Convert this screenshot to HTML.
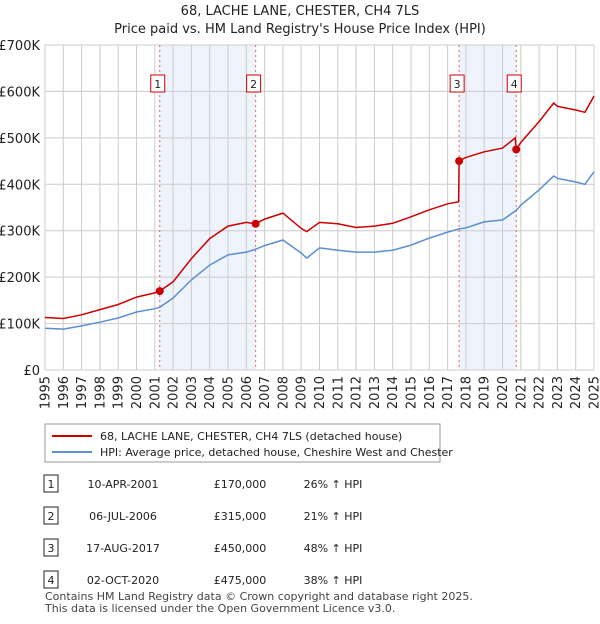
<!DOCTYPE html>
<html><head><meta charset="utf-8"><style>
body{margin:0;background:#fff;font-family:"DejaVu Sans",sans-serif;}
svg text{font-family:"DejaVu Sans","Liberation Sans",sans-serif;}
</style></head><body>
<svg id="c" width="600" height="620" xmlns="http://www.w3.org/2000/svg">
<text x="300" y="15" text-anchor="middle" font-size="13" fill="#222">68, LACHE LANE, CHESTER, CH4 7LS</text>
<text x="300" y="33" text-anchor="middle" font-size="13" fill="#222">Price paid vs. HM Land Registry's House Price Index (HPI)</text>
<g id="plot"></g>
<rect x="45" y="424" width="395" height="38" fill="#fff" stroke="#999"/>
<line x1="52" y1="436" x2="92" y2="436" stroke="#cc0000" stroke-width="2"/>
<text x="100" y="440" font-size="11" fill="#222">68, LACHE LANE, CHESTER, CH4 7LS (detached house)</text>
<line x1="52" y1="452" x2="92" y2="452" stroke="#5b8fd0" stroke-width="2"/>
<text x="100" y="456" font-size="11" fill="#222">HPI: Average price, detached house, Cheshire West and Chester</text>
<g id="tbl"></g>
<text x="45" y="600" font-size="11" fill="#444">Contains HM Land Registry data © Crown copyright and database right 2025.</text>
<text x="45" y="612" font-size="11" fill="#444">This data is licensed under the Open Government Licence v3.0.</text>
</svg>
<script>
const hpiDates=[1995,1996,1997,1998,1999,2000,2001,2001.27,2002,2003,2004,2005,2006,2006.5,2007,2008,2009,2009.3,2010,2011,2012,2013,2014,2015,2016,2017,2017.63,2018,2019,2020,2020.75,2021,2022,2022.8,2023,2024,2024.5,2025];
const hpiValues=[90,88,95,103,112,125,132,135,155,194,226,248,254,260,268,280,252,241,263,258,254,254,258,269,284,297,304,306,319,323,344,355,388,418,413,405,400,427];
const priceDates=[1995,1996,1997,1998,1999,2000,2001,2001.27,2002,2003,2004,2005,2006,2006.5,2007,2008,2009,2009.3,2010,2011,2012,2013,2014,2015,2016,2017,2017.6,2017.63,2018,2019,2020,2020.7,2020.75,2021,2022,2022.8,2023,2024,2024.5,2025];
const priceValues=[113,111,119,130,141,157,166,170,190,240,283,310,318,315,325,338,305,298,318,315,307,310,316,330,345,358,362,450,458,470,478,500,475,490,535,575,568,560,555,590];
const saleLabels=["1","2","3","4"];
const saleDates=[2001.27,2006.51,2017.63,2020.75];
const saleDateText=["10-APR-2001","06-JUL-2006","17-AUG-2017","02-OCT-2020"];
const salePrices=[170,315,450,475];
const saleHpiText=["26% ↑ HPI","21% ↑ HPI","48% ↑ HPI","38% ↑ HPI"];
const yTicks=[0,100,200,300,400,500,600,700];
const yTickLabels=["£0","£100K","£200K","£300K","£400K","£500K","£600K","£700K"];
const xYears=[1995,1996,1997,1998,1999,2000,2001,2002,2003,2004,2005,2006,2007,2008,2009,2010,2011,2012,2013,2014,2015,2016,2017,2018,2019,2020,2021,2022,2023,2024,2025];

const NS="http://www.w3.org/2000/svg";
const X0=45,X1=594,Y0=370,Y1=45;
const x=d=>X0+(d-1995)/30*(X1-X0);
const y=v=>Y0-(v/700)*(Y0-Y1);
const plot=document.getElementById('plot');
function mk(tag,attrs,parent,txt){const e=document.createElementNS(NS,tag);for(const k in attrs)e.setAttribute(k,attrs[k]);if(txt!==undefined)e.textContent=txt;(parent||plot).appendChild(e);return e;}

let r=mk('rect',{x:X0,y:Y1,width:X1-X0,height:Y0-Y1,fill:'#fff'});


for(let i=0;i<saleDates.length;i+=2){
  const s=mk('rect',{x:x(saleDates[i]),y:Y1,width:x(saleDates[i+1])-x(saleDates[i]),height:Y0-Y1,fill:'#eef3fc'});
  
  
}
xYears.forEach(yr=>{
  const l=mk('line',{x1:x(yr),x2:x(yr),y1:Y1,y2:Y0,stroke:'#cccccc','stroke-width':1});
  
  
  const tx=x(yr)+4.5,ty=376;
  const t=mk('text',{x:tx,y:ty,'text-anchor':'end','font-size':13,fill:'#222',transform:`rotate(-90 ${tx} ${ty})`},plot,String(yr));
  
  
});
yTicks.forEach((v,i)=>{
  const l=mk('line',{x1:X0,x2:X1,y1:y(v),y2:y(v),stroke:'#cccccc','stroke-width':1});
  
  
  const t=mk('text',{x:40,y:y(v)+5,'text-anchor':'end','font-size':13,fill:'#222'},plot,yTickLabels[i]);
  
  
});
saleDates.forEach((d,i)=>{
  const l=mk('line',{x1:x(d),x2:x(d),y1:Y1,y2:Y0,stroke:'#e06060','stroke-width':1,'stroke-dasharray':'2,3'});
  
  
  const b=mk('rect',{x:x(d)-9,y:75,width:14,height:17,fill:'#fff',stroke:'#cc0000'});
  
  
  const t=mk('text',{x:x(d)-2,y:88,'text-anchor':'middle','font-size':11,fill:'#222'},plot,saleLabels[i]);
  
  
});
const path=(ds,vs)=>ds.map((d,i)=>(i?'L':'M')+x(d).toFixed(1)+','+y(vs[i]).toFixed(1)).join('');
const hp=mk('path',{d:path(hpiDates,hpiValues),fill:'none',stroke:'#5b8fd0','stroke-width':1.5});


const pp=mk('path',{d:path(priceDates,priceValues),fill:'none',stroke:'#cc0000','stroke-width':1.5});


saleDates.forEach((d,i)=>{
  const c=mk('circle',{cx:x(d),cy:y(salePrices[i]),r:4,fill:'#cc0000'});
  
  
});
const tbl=document.getElementById('tbl');
saleLabels.forEach((lb,i)=>{
  const yy=487+i*32;
  const b=mk('rect',{x:44,y:yy-12,width:14,height:17,fill:'#fff',stroke:'#222'},tbl);
  
  
  let t=mk('text',{x:51,y:yy+1,'text-anchor':'middle','font-size':11,fill:'#222'},tbl,lb);
  
  
  t=mk('text',{x:123,y:yy+1,'text-anchor':'middle','font-size':11,fill:'#222'},tbl,saleDateText[i]);
  
  
  t=mk('text',{x:240,y:yy+1,'text-anchor':'middle','font-size':11,fill:'#222'},tbl,'£'+salePrices[i]+',000');
  
  
  t=mk('text',{x:333,y:yy+1,'text-anchor':'middle','font-size':11,fill:'#222'},tbl,saleHpiText[i]);
  
  
});
</script>
</body></html>
